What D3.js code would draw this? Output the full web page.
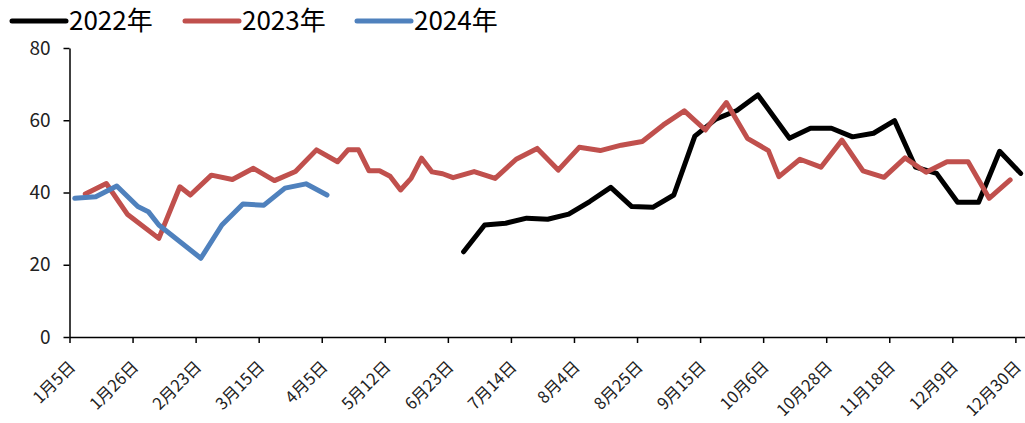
<!DOCTYPE html>
<html>
<head>
<meta charset="utf-8">
<script src="https://cdn.jsdelivr.net/npm/d3@7"></script>
<style>
  body { margin: 0; background: #fff; }
  svg text { font-family: "Noto Sans CJK SC", "Noto Sans", sans-serif; }
</style>
</head>
<body>
<div id="chart"></div>
<script>
// category axis: 91 slots, a label every 6th slot
const nCategories = 91;
const tickLabels = ["1月5日", "1月26日", "2月23日", "3月15日", "4月5日", "5月12日", "6月23日", "7月14日",
  "8月4日", "8月25日", "9月15日", "10月6日", "10月28日", "11月18日", "12月9日", "12月30日"];
const yTicks = [0, 20, 40, 60, 80];

// [category index, value]
const data2022 = [[37, 23.6], [39, 31.0], [41, 31.5], [43, 32.9], [45, 32.6], [47, 34.0], [49, 37.5],
  [51, 41.4], [53, 36.1], [55, 35.9], [57, 39.3], [59, 55.6], [61, 60.3], [63, 62.7], [65, 67.0],
  [68, 55.0], [70, 57.8], [72, 57.8], [74, 55.4], [76, 56.4], [78, 59.9], [80, 47.0], [82, 45.3],
  [84, 37.3], [86, 37.3], [88, 51.4], [90, 45.3]];
const data2023 = [[1, 39.6], [3, 42.5], [5, 34.0], [8, 27.3], [10, 41.6], [11, 39.3], [13, 44.8],
  [15, 43.6], [17, 46.7], [19, 43.3], [21, 45.8], [23, 51.8], [25, 48.5], [26, 51.8], [27, 51.8],
  [28, 46.0], [29, 46.0], [30, 44.5], [31, 40.7], [32, 43.9], [33, 49.5], [34, 45.7], [35, 45.2],
  [36, 44.1], [38, 45.8], [40, 43.9], [42, 49.2], [44, 52.2], [46, 46.2], [48, 52.5], [50, 51.6],
  [52, 53.1], [54, 54.1], [56, 58.7], [58, 62.6], [60, 57.3], [62, 64.9], [64, 55.0], [66, 51.6],
  [67, 44.4], [69, 49.2], [71, 47.0], [73, 54.5], [75, 46.0], [77, 44.2], [79, 49.6], [81, 45.6],
  [83, 48.5], [85, 48.5], [87, 38.4], [89, 43.5]];
const data2024 = [[0, 38.4], [2, 38.8], [4, 41.8], [6, 36.1], [7, 34.7], [8, 31.0], [12, 21.8],
  [14, 31.0], [16, 36.8], [18, 36.5], [20, 41.2], [22, 42.4], [24, 39.3]];

const seriesNames = ["2022年", "2023年", "2024年"];
const seriesColors = ["#000000", "#C0504D", "#4F81BD"];
const seriesData = [data2022, data2023, data2024];

const width = 1025, height = 423;
const plotLeft = 69.5, plotRight = 1025.9, plotTop = 48, plotBottom = 337;

const svg = d3.select("#chart").append("svg")
  .attr("width", width)
  .attr("height", height);

const x = d3.scaleBand()
  .domain(d3.range(nCategories))
  .range([plotLeft, plotRight])
  .padding(0);
// boundaries between categories, used for tick marks
const xb = d3.scaleLinear().domain([0, nCategories]).range([plotLeft, plotRight]);
const y = d3.scaleLinear().domain([0, 80]).range([plotBottom, plotTop]);

// y axis
const yAxis = svg.append("g")
  .attr("transform", "translate(" + plotLeft + ",0)")
  .call(d3.axisLeft(y).tickValues(yTicks).tickSize(6).tickSizeOuter(0).tickPadding(13));
yAxis.select(".domain").attr("stroke", "#000").attr("stroke-width", 1.5);
yAxis.selectAll(".tick line").attr("stroke", "#000").attr("stroke-width", 1.5);
yAxis.selectAll(".tick text")
  .attr("font-size", 19)
  .attr("fill", "#222");

// x axis
const xAxis = svg.append("g")
  .attr("transform", "translate(0," + plotBottom + ")")
  .call(d3.axisBottom(xb)
    .tickValues(d3.range(0, nCategories, 6))
    .tickSize(6)
    .tickSizeOuter(0)
    .tickFormat(i => tickLabels[i / 6]));
xAxis.select(".domain").attr("stroke", "#000").attr("stroke-width", 1.5);
xAxis.selectAll(".tick line").attr("stroke", "#000").attr("stroke-width", 1.5);
xAxis.selectAll(".tick text")
  .attr("font-size", 16.5)
  .attr("fill", "#222")
  .attr("text-anchor", "end")
  .attr("x", 0)
  .attr("y", 0)
  .attr("dy", "0.35em")
  .attr("transform", "translate(" + (x.bandwidth() / 2 - 3) + ",27) rotate(-45)");

// lines
const line = d3.line()
  .x(d => x(d[0]) + x.bandwidth() / 2)
  .y(d => y(d[1]));

seriesData.forEach((s, k) => {
  svg.append("path")
    .datum(s)
    .attr("fill", "none")
    .attr("stroke", seriesColors[k])
    .attr("stroke-width", 5)
    .attr("stroke-linejoin", "round")
    .attr("stroke-linecap", "round")
    .attr("d", line);
});

// legend
const legendX = [12, 185, 357];
const legend = svg.append("g");
seriesNames.forEach((name, k) => {
  legend.append("line")
    .attr("x1", legendX[k]).attr("x2", legendX[k] + 54)
    .attr("y1", 21).attr("y2", 21)
    .attr("stroke", seriesColors[k])
    .attr("stroke-width", 5)
    .attr("stroke-linecap", "round");
  legend.append("text")
    .attr("x", legendX[k] + 57)
    .attr("y", 29.5)
    .attr("font-size", 26)
    .attr("fill", "#000")
    .text(name);
});
</script>
</body>
</html>
